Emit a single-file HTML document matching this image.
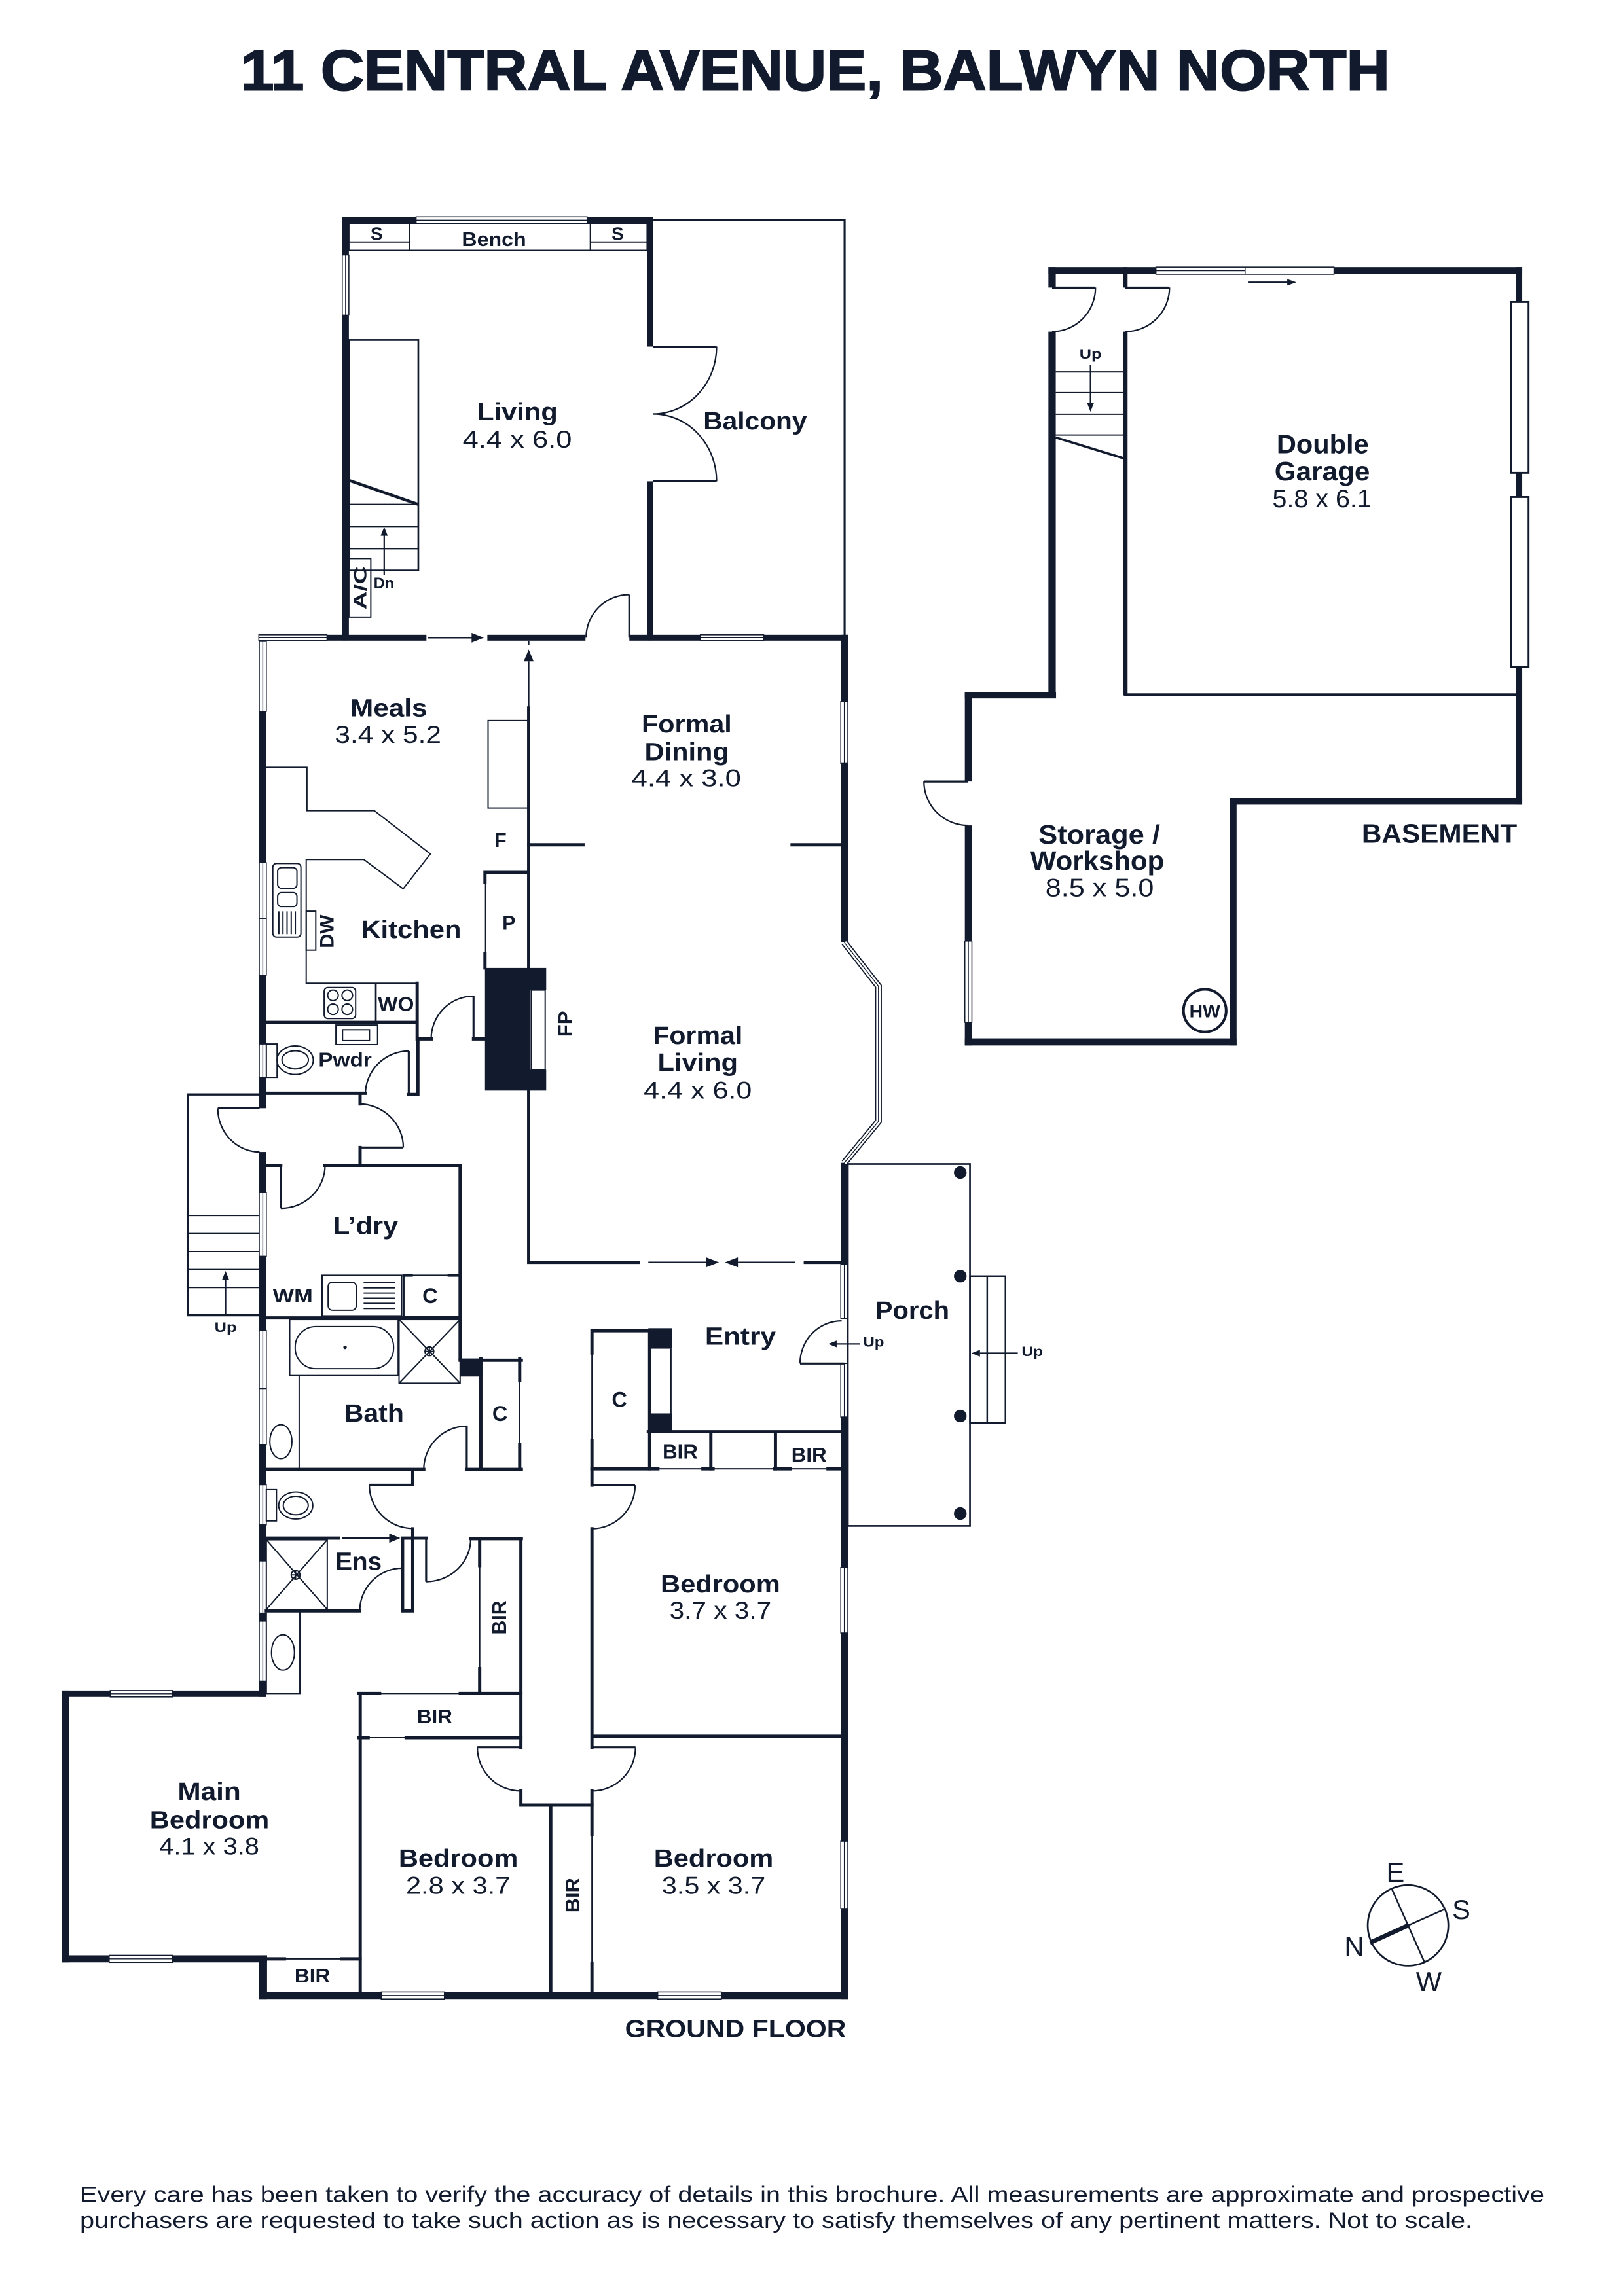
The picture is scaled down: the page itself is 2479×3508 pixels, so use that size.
<!DOCTYPE html>
<html><head><meta charset="utf-8">
<style>
html,body{margin:0;padding:0;background:#fff;}
svg{display:block;}
text{font-family:"Liberation Sans",Arial,sans-serif;fill:#121b2e;}
.n{font-weight:bold;font-size:17px;}
.d{font-size:16.5px;}
.s{font-weight:bold;font-size:13.5px;}
.u{font-weight:bold;font-size:9.5px;}
.c{font-size:18.5px;}
</style></head><body>
<svg xmlns="http://www.w3.org/2000/svg" width="2479" height="3508" viewBox="0 0 1103 1560.8" preserveAspectRatio="none">
<rect width="1103" height="1560.8" fill="#fff"/>

<text x="554" y="61.1" text-anchor="middle" font-weight="bold" font-size="39" textLength="781" lengthAdjust="spacingAndGlyphs" stroke="#121b2e" stroke-width="0.9">11 CENTRAL AVENUE, BALWYN NORTH</text>

<!-- exterior walls -->
<g fill="#121b2e">
<rect x="232.6" y="147.4" width="211.2" height="4.5"/>
<rect x="232.6" y="147.4" width="4.5" height="288"/>
<rect x="439.8" y="147.4" width="4" height="88.2"/>
<rect x="439.8" y="327.2" width="4" height="108.2"/>
<rect x="175.9" y="431.5" width="113.9" height="4"/>
<rect x="331.2" y="431.5" width="66.7" height="4"/>
<rect x="427.7" y="431.5" width="148.5" height="4"/>
<rect x="176.2" y="431.5" width="4.8" height="321.9"/>
<rect x="176.2" y="783.1" width="4.8" height="370.5"/>
<rect x="42" y="1149.2" width="139" height="4.4"/>
<rect x="42" y="1149.2" width="5" height="184.8"/>
<rect x="42" y="1329.2" width="139.5" height="4.8"/>
<rect x="176.1" y="1329.2" width="5.4" height="29.7"/>
<rect x="176.1" y="1354.1" width="400.1" height="4.8"/>
<rect x="571.4" y="431.5" width="4.8" height="209.2"/>
<rect x="571.4" y="790.5" width="4.8" height="106"/>
<rect x="571.4" y="926.9" width="4.8" height="432"/>
<!-- basement -->
<rect x="712.5" y="181.6" width="322" height="4.8"/>
<rect x="712.5" y="181.6" width="5" height="13.9"/>
<rect x="712.5" y="225.4" width="5" height="249"/>
<rect x="763.5" y="181.6" width="2.8" height="13.9"/>
<rect x="763.5" y="225.4" width="2.8" height="247.4"/>
<rect x="655.7" y="470.4" width="62" height="4.4"/>
<rect x="655.7" y="470.4" width="4.8" height="60.9"/>
<rect x="655.7" y="561.1" width="4.8" height="149.6"/>
<rect x="655.7" y="705.9" width="184.7" height="4.8"/>
<rect x="836" y="542.6" width="4.4" height="168.1"/>
<rect x="836" y="542.6" width="198.5" height="4.4"/>
<rect x="1030.1" y="181.6" width="4.4" height="365.4"/>
<rect x="764" y="471.3" width="268" height="2"/>
<!-- black solids -->
<rect x="329.6" y="658" width="30.7" height="83.4"/>
<rect x="360.3" y="658" width="10.9" height="15"/>
<rect x="360.3" y="727.2" width="10.9" height="14.2"/>
<rect x="440.6" y="902.9" width="16" height="13.9"/>
<rect x="440.6" y="960.8" width="16" height="13"/>
<rect x="312.7" y="923.5" width="15.1" height="12.3"/>
</g>

<!-- bay window -->
<path d="M573.8,640.7 L597,670.4 L597,762.3 L573.8,790.5" fill="none" stroke="#121b2e" stroke-width="4.6"/>
<path d="M573.8,640.7 L597,670.4 L597,762.3 L573.8,790.5" fill="none" stroke="#fff" stroke-width="3"/>
<path d="M573.8,640.7 L597,670.4 L597,762.3 L573.8,790.5" fill="none" stroke="#121b2e" stroke-width="0.6"/>

<!-- windows -->
<g fill="#fff" stroke="#121b2e" stroke-width="0.7">
<rect x="282.8" y="147.4" width="116.2" height="4.5"/>
<rect x="175.9" y="431.5" width="46.3" height="4"/>
<rect x="476" y="431.5" width="43" height="4"/>
<rect x="74.9" y="1149.2" width="42.2" height="4.4"/>
<rect x="74.2" y="1329.2" width="42.9" height="4.8"/>
<rect x="259.1" y="1354.1" width="42.9" height="4.8"/>
<rect x="447" y="1354.1" width="43.2" height="4.8"/>
<rect x="785.6" y="181.6" width="121" height="4.8"/>
<rect x="232.6" y="173.3" width="4.5" height="40.9"/>
<rect x="176.2" y="436" width="4.8" height="47.6"/>
<rect x="176.2" y="586.5" width="4.8" height="37.8"/>
<rect x="176.2" y="624.3" width="4.8" height="38.6"/>
<rect x="176.2" y="709.7" width="4.8" height="22.7"/>
<rect x="176.2" y="810.5" width="4.8" height="43.5"/>
<rect x="176.2" y="904.4" width="4.8" height="39.5"/>
<rect x="176.2" y="943.9" width="4.8" height="38.2"/>
<rect x="176.2" y="1009.3" width="4.8" height="27.3"/>
<rect x="176.2" y="1061.1" width="4.8" height="35.5"/>
<rect x="176.2" y="1102" width="4.8" height="40.8"/>
<rect x="571.4" y="476.9" width="4.8" height="42.1"/>
<rect x="571.4" y="859.5" width="4.8" height="36.6"/>
<rect x="571.4" y="926.9" width="4.8" height="36.4"/>
<rect x="571.4" y="1065.5" width="4.8" height="44.6"/>
<rect x="571.4" y="1251.6" width="4.8" height="45.8"/>
<rect x="655.7" y="639.7" width="4.8" height="55.2"/>
</g>
<g stroke="#121b2e" stroke-width="0.6" fill="none">
<path d="M282.8,149.65H399 M175.9,433.5H222.2 M476,433.5H519 M74.9,1151.4H117.1 M74.2,1331.6H117.1 M259.1,1356.5H302 M447,1356.5H490.2 M785.6,184H846.2 M846.2,181.6V186.4"/>
<path d="M234.85,173.3V214.2 M178.6,436V483.6 M178.6,586.5V662.9 M178.6,709.7V732.4 M178.6,810.5V854 M178.6,904.4V982.1 M178.6,1009.3V1036.6 M178.6,1061.1V1096.6 M178.6,1102V1142.8"/>
<path d="M573.8,476.9V519 M573.8,859.5V896.1 M573.8,926.9V963.3 M573.8,1065.5V1110.1 M573.8,1251.6V1297.4 M658.1,639.7V694.9"/>
</g>
<g fill="#fff" stroke="#121b2e" stroke-width="1.3">
<rect x="1026.8" y="205.3" width="12" height="116.1"/>
<rect x="1026.8" y="337.9" width="12" height="115.3"/>
</g>

<!-- interior walls -->
<g stroke="#121b2e" stroke-width="2.2" fill="none" stroke-linecap="square">
<path d="M359.3,481.3 V858.1 H434"/>
<path d="M359.3,574.3 H396.2 M538.3,574.3 H571.4 M547.3,858.1 H571.4"/>
<path d="M329.6,593.1 H359.3 M329.6,593.1 V599.7 M329.6,648.4 V658"/>
<path d="M181,695 H283.5 M283.5,668.4 V706.3 H293 M321.8,706.3 H329.6"/>
<path d="M284,706.3 V744 H277.8"/>
<path d="M181,743.2 H248.3 M244.7,743.2 V750.5 M244.7,780.1 V792.2"/>
<path d="M181,792.2 H190.8 M220.9,792.2 H312.7 V923.5 M181,895.9 H312.7"/>
<path d="M312.7,924.7 H354.3 M326.8,923.5 V998.9 M353.2,923.5 V938.5 M353.2,982 V998.9"/>
<path d="M181,998.9 H288 M317.2,998.9 H354.3 M280.5,998.9 V1009.3 M280.5,1039.3 V1046"/>
<path d="M181,1045.6 H230 M273.6,1045.6 H289.6 M273.6,1045.6 V1095.1 H280.5 V1045.6 M181,1095.1 H244.5"/>
<path d="M319.9,1046 H354.3 M326,1046 V1064.3 M326,1134.3 V1151.2 M354,1046 V1187.8"/>
<path d="M243.7,1151.2 H258 M312.8,1151.2 H354 M243.7,1181.3 H250.2 M276,1181.3 H354 M244.8,1151.2 V1354.1"/>
<path d="M354,1217.5 V1227.1 H402.3 M374.3,1227.1 V1354.1 M402.3,1227.1 V1246.9 M402.3,1334.5 V1354.1"/>
<path d="M402.3,998.5 V1009.6 M402.3,1039.2 V1187.8 M402.3,1217.5 V1227.1 M402.3,1180.3 H571.4"/>
<path d="M402.3,904.6 H441.5 V998.5 M402.3,904.6 V919.8 M402.3,979.4 V998.5"/>
<path d="M440.6,973.3 H571.4 M483.1,973.3 V998.5 M527,973.3 V998.5"/>
<path d="M402.3,998.5 H447.1 M477.7,998.5 H484.6 M526.4,998.5 H536.9 M562.7,998.5 H571.4"/>
<path d="M181.5,1331.6 H193.3 M232.2,1331.6 H244.8"/>
<path d="M274.5,866.9 H279.6 M305.2,866.9 H312.7" stroke-width="2"/>
</g>

<!-- thin fixtures -->
<g stroke="#121b2e" stroke-width="0.9" fill="none">
<rect x="237.1" y="151.9" width="202.7" height="18.3"/>
<path d="M278.4,151.9V170.2 M401.2,151.9V170.2 M237.1,164.5H278.4 M401.2,164.5H439.8"/>
<rect x="237.1" y="231.1" width="47.2" height="156.7" stroke-width="1.2"/>
<path d="M237.1,342.9H284.3 M237.1,357.9H284.3 M237.1,373H284.3"/>
<rect x="237.1" y="379.7" width="14.9" height="39.8"/>
<rect x="331.7" y="489.8" width="27.6" height="59.5"/>
<path d="M330,599.7V648.4"/>
<path d="M181,521.6 H208.6 V551.1 H254.4 L292.5,580.5 L274,604.2 L247.3,584.3 H208.1 V668.4 H283.5"/>
<rect x="185.4" y="587" width="19.1" height="50" rx="2.5"/>
<rect x="188.7" y="589.8" width="13.1" height="14" rx="2.5"/>
<rect x="188.7" y="606.8" width="13.1" height="9.5" rx="2.5"/>
<path d="M189.5,619.5V635 M192.3,619.5V635 M195.1,619.5V635 M197.9,619.5V635 M200.7,619.5V635"/>
<rect x="208.1" y="619.4" width="6.5" height="26.5"/>
<rect x="220.3" y="671.3" width="21.4" height="21.1" rx="2.5"/>
<circle cx="226.3" cy="676.6" r="3.6"/><circle cx="236" cy="676.6" r="3.6"/>
<circle cx="226.3" cy="686.1" r="3.6"/><circle cx="236" cy="686.1" r="3.6"/>
<path d="M255.4,668.4V695" stroke-width="1.2"/>
<rect x="361" y="673" width="9.5" height="54.2" fill="#fff"/>
<rect x="228.3" y="696.8" width="28.3" height="13.3"/>
<rect x="232.8" y="700" width="18.3" height="7.4"/>
<rect x="181" y="709.7" width="7.3" height="22.7"/>
<ellipse cx="200.6" cy="720.7" rx="12.3" ry="9.7"/>
<ellipse cx="200.6" cy="720.5" rx="9" ry="6.2"/>
<path d="M179,744 H127.6 V894.1 H179" stroke-width="1.5"/>
<path d="M127.6,826.3H176.2 M127.6,838.5H176.2 M127.6,850.7H176.2 M127.6,863H176.2 M127.6,875.3H176.2"/>
<rect x="218.9" y="866.9" width="54.1" height="27.6"/>
<rect x="223" y="871.6" width="19.1" height="19.1" rx="3"/>
<path d="M247.1,872H268.5 M247.1,875.5H268.5 M247.1,879H268.5 M247.1,882.5H268.5 M247.1,886H268.5 M247.1,889.5H268.5"/>
<rect x="274.5" y="866.9" width="38.2" height="28"/>
<rect x="196.9" y="897" width="73.7" height="38.1"/>
<rect x="200.6" y="901.8" width="66.9" height="28.6" rx="14"/>
<rect x="271.2" y="897" width="41.5" height="43.3"/>
<path d="M271.2,897 L312.7,940.3 M312.7,897 L271.2,940.3"/>
<circle cx="291.8" cy="918.6" r="3"/>
<path d="M288.8,918.6H294.8 M291.8,915.6V921.6"/>
<path d="M203.3,935.1V998.9"/>
<ellipse cx="190.9" cy="980" rx="7.5" ry="11.5"/>
<path d="M353.2,938.5V982"/>
<rect x="181" y="1012.6" width="6.9" height="21.3"/>
<ellipse cx="201" cy="1023.4" rx="11.6" ry="9.2"/>
<ellipse cx="201" cy="1023.4" rx="8.5" ry="6.3"/>
<rect x="181" y="1046.7" width="41.4" height="47.4"/>
<path d="M181,1046.7 L222.4,1094.1 M222.4,1046.7 L181,1094.1"/>
<circle cx="200.9" cy="1070.6" r="3"/>
<path d="M197.9,1070.6H203.9 M200.9,1067.6V1073.6"/>
<rect x="181" y="1095.1" width="22.8" height="56.1"/>
<ellipse cx="192.3" cy="1123.3" rx="7.8" ry="12"/>
<path d="M326,1064.3V1134.3 M258,1151.2H312.8 M250.2,1181.3H276 M402.3,1246.9V1334.5 M193.3,1331.6H232.2 M402.3,919.8V979.4 M456,916.8V960.8 M402.3,998.5H571.4"/>
<rect x="576.2" y="791.3" width="83" height="246" stroke-width="1.2"/>
<rect x="659.2" y="867.5" width="24.1" height="99.8" stroke-width="1.1"/>
<path d="M670.9,867.5V967.3" stroke-width="1.1"/>
<path d="M443.8,149.4 H574 V433.5" stroke-width="1.4"/>
<path d="M717.5,252.8H763.5 M717.5,266.9H763.5 M717.5,281.6H763.5 M717.5,295.7H763.5"/>
<circle cx="818.8" cy="687" r="14.5" stroke-width="1.8"/>
</g>
<path d="M237.1,326.5 L284.3,342.9" stroke="#121b2e" stroke-width="2" fill="none"/>
<path d="M717.5,297.4 L763.5,311.5" stroke="#121b2e" stroke-width="1.6" fill="none"/>
<g fill="#121b2e">
<circle cx="652.6" cy="797.1" r="4.3"/>
<circle cx="652.6" cy="867.5" r="4.3"/>
<circle cx="652.6" cy="962.6" r="4.3"/>
<circle cx="652.6" cy="1028.9" r="4.3"/>
<circle cx="234.5" cy="915.9" r="1.2"/>
</g>

<!-- door leaves -->
<g stroke="#121b2e" stroke-width="1.4" fill="none">
<path d="M427.7,404.2V433.5"/>
<path d="M443.8,235.6H487 M443.8,327.2H487"/>
<path d="M321.8,677.2V706.3"/>
<path d="M277.8,714.5V744"/>
<path d="M148,753.4H176.4"/>
<path d="M243.9,780.1H274.1"/>
<path d="M190.8,792.2V821.4"/>
<path d="M317.2,969.5V998.9"/>
<path d="M251,1009.3H280.5"/>
<path d="M273.6,1066V1095.1"/>
<path d="M289.6,1046V1075.2"/>
<path d="M324.4,1187.8H354"/>
<path d="M402.3,1187.8H431.9"/>
<path d="M402.3,1009.6H431.6"/>
<path d="M543.7,926.9H573.8"/>
<path d="M715,195.5H744.5"/>
<path d="M764.8,195.5H794.8"/>
<path d="M627.9,531.3H658"/>
</g>
<!-- door arcs -->
<g stroke="#121b2e" stroke-width="1" fill="none">
<path d="M398.3,433.5 A29.4,29.3 0 0 1 427.7,404.2"/>
<path d="M487,235.6 A43.2,45.8 0 0 1 443.8,281.4"/>
<path d="M487,327.2 A43.2,45.8 0 0 0 443.8,281.4"/>
<path d="M293,706.3 A28.8,29.1 0 0 1 321.8,677.2"/>
<path d="M248.3,744 A29.5,29.5 0 0 1 277.8,714.5"/>
<path d="M148,753.4 A28.4,29.7 0 0 0 176.4,783.1"/>
<path d="M274.1,780.1 A30.2,29.6 0 0 0 243.9,750.5"/>
<path d="M190.8,821.4 A30.1,29.2 0 0 0 220.9,792.2"/>
<path d="M288,998.9 A29.2,29.4 0 0 1 317.2,969.5"/>
<path d="M251,1009.3 A29.5,29.7 0 0 0 280.5,1039"/>
<path d="M244.5,1095.1 A29.1,29.1 0 0 1 273.6,1066"/>
<path d="M289.6,1075.2 A30.3,29.2 0 0 0 319.9,1046"/>
<path d="M324.4,1187.8 A29.6,29.7 0 0 0 354,1217.5"/>
<path d="M431.9,1187.8 A29.6,29.7 0 0 1 402.3,1217.5"/>
<path d="M431.6,1009.6 A29.3,29.6 0 0 1 402.3,1039.2"/>
<path d="M543.7,926.9 A28.3,29 0 0 1 572,897.9"/>
<path d="M744.5,195.5 A29.5,29.9 0 0 1 715,225.4"/>
<path d="M794.8,195.5 A30,29.9 0 0 1 764.8,225.4"/>
<path d="M627.9,531.3 A30.1,29.8 0 0 0 658,561.1"/>
</g>

<!-- arrows -->
<g stroke="#121b2e" stroke-width="1" fill="none">
<path d="M290.9,433.5H321 M359.3,449.5V481.3 M359.3,435.5V438.5 M440.6,858.1H480 M501.5,858.1H540.5 M232.3,1045.6H265 M153.3,894.1V869.5 M261.1,391V364 M584.6,913.6H568 M691.7,919.9H666 M848.1,191.9H875 M741.1,248.2V274.5"/>
</g>
<g fill="#121b2e">
<polygon points="328.8,433.5 320.5,430.2 320.5,436.8"/>
<polygon points="359.3,441.5 356,449.5 362.6,449.5"/>
<polygon points="488.6,858.1 479.8,854.7 479.8,861.5"/>
<polygon points="492.7,858.1 501.5,854.7 501.5,861.5"/>
<polygon points="272.1,1045.6 264.5,1042.4 264.5,1048.8"/>
<polygon points="153.3,864 150.9,870 155.7,870"/>
<polygon points="261.1,358.2 258.7,364.2 263.5,364.2"/>
<polygon points="562.8,913.6 568.6,911.3 568.6,915.9"/>
<polygon points="660.2,919.9 666,917.6 666,922.2"/>
<polygon points="881,191.9 874.8,189.7 874.8,194.1"/>
<polygon points="741.1,279.9 738.8,274 743.4,274"/>
</g>

<!-- compass -->
<g stroke="#121b2e" fill="none">
<circle cx="956.9" cy="1308.9" r="27.4" stroke-width="1.2"/>
<path d="M945.9,1284.1 L968.2,1334.1" stroke-width="1.1"/>
<path d="M956.9,1308.9 L981.5,1298" stroke-width="1.1"/>
<path d="M931.1,1320.7 L956.9,1308.9" stroke-width="3"/>
</g>
<text class="c" x="948.3" y="1279.2" text-anchor="middle">E</text>
<text class="c" x="993.1" y="1304.5" text-anchor="middle">S</text>
<text class="c" x="920.3" y="1329.4" text-anchor="middle">N</text>
<text class="c" x="971" y="1353.4" text-anchor="middle">W</text>

<!-- labels ground floor -->
<text class="n" x="351.7" y="285.7" text-anchor="middle" textLength="54.6" lengthAdjust="spacingAndGlyphs">Living</text>
<text class="d" x="351.5" y="304.3" text-anchor="middle" textLength="74.2" lengthAdjust="spacingAndGlyphs">4.4 x 6.0</text>
<text class="n" x="513.2" y="291.8" text-anchor="middle" textLength="70.4" lengthAdjust="spacingAndGlyphs">Balcony</text>
<text x="256" y="163.1" text-anchor="middle" font-weight="bold" font-size="12.5">S</text>
<text x="419.8" y="163.1" text-anchor="middle" font-weight="bold" font-size="12.5">S</text>
<text x="335.7" y="167.2" text-anchor="middle" font-weight="bold" font-size="13.5" textLength="43.7" lengthAdjust="spacingAndGlyphs">Bench</text>
<text x="244.5" y="404" transform="rotate(-90 244.5 399.6)" text-anchor="middle" font-weight="bold" font-size="12" textLength="29.6" lengthAdjust="spacingAndGlyphs">A/C</text>
<text x="253.9" y="400.1" font-weight="bold" font-size="10.5" textLength="14" lengthAdjust="spacingAndGlyphs">Dn</text>
<text class="n" x="264.2" y="486.9" text-anchor="middle" textLength="52.3" lengthAdjust="spacingAndGlyphs">Meals</text>
<text class="d" x="263.7" y="505" text-anchor="middle" textLength="72.3" lengthAdjust="spacingAndGlyphs">3.4 x 5.2</text>
<text class="n" x="466.7" y="497.9" text-anchor="middle" textLength="61.3" lengthAdjust="spacingAndGlyphs">Formal</text>
<text class="n" x="466.8" y="516.8" text-anchor="middle" textLength="57.5" lengthAdjust="spacingAndGlyphs">Dining</text>
<text class="d" x="466.4" y="534.5" text-anchor="middle" textLength="74.4" lengthAdjust="spacingAndGlyphs">4.4 x 3.0</text>
<text class="s" x="340.1" y="575.8" text-anchor="middle">F</text>
<text class="s" x="345.8" y="632" text-anchor="middle">P</text>
<text x="221.8" y="638" transform="rotate(-90 221.8 633.2)" text-anchor="middle" font-weight="bold" font-size="13" textLength="22.8" lengthAdjust="spacingAndGlyphs">DW</text>
<text class="n" x="279.4" y="637.5" text-anchor="middle" textLength="68.1" lengthAdjust="spacingAndGlyphs">Kitchen</text>
<text class="s" x="269.1" y="687.2" text-anchor="middle" textLength="24.5" lengthAdjust="spacingAndGlyphs">WO</text>
<text x="384" y="700.7" transform="rotate(-90 384 696)" text-anchor="middle" font-weight="bold" font-size="13" textLength="17.7" lengthAdjust="spacingAndGlyphs">FP</text>
<text class="n" x="474.2" y="709.7" text-anchor="middle" textLength="61" lengthAdjust="spacingAndGlyphs">Formal</text>
<text class="n" x="474.2" y="728" text-anchor="middle" textLength="54.5" lengthAdjust="spacingAndGlyphs">Living</text>
<text class="d" x="474.2" y="746.9" text-anchor="middle" textLength="73.5" lengthAdjust="spacingAndGlyphs">4.4 x 6.0</text>
<text class="s" x="234.5" y="724.9" text-anchor="middle" textLength="36.3" lengthAdjust="spacingAndGlyphs">Pwdr</text>
<text class="n" x="248.5" y="839" text-anchor="middle" textLength="44.2" lengthAdjust="spacingAndGlyphs">L’dry</text>
<text class="u" x="153.3" y="905.4" text-anchor="middle" textLength="15" lengthAdjust="spacingAndGlyphs">Up</text>
<text class="s" x="199" y="885.4" text-anchor="middle" textLength="27.2" lengthAdjust="spacingAndGlyphs">WM</text>
<text x="292.3" y="885.9" text-anchor="middle" font-weight="bold" font-size="14.5">C</text>
<text class="n" x="254.2" y="966.3" text-anchor="middle" textLength="40.6" lengthAdjust="spacingAndGlyphs">Bath</text>
<text x="339.8" y="966" text-anchor="middle" font-weight="bold" font-size="14.5">C</text>
<text class="n" x="503.2" y="914" text-anchor="middle" textLength="48.1" lengthAdjust="spacingAndGlyphs">Entry</text>
<text x="421" y="956.3" text-anchor="middle" font-weight="bold" font-size="14.5">C</text>
<text class="s" x="462.3" y="991.6" text-anchor="middle" textLength="24" lengthAdjust="spacingAndGlyphs">BIR</text>
<text class="s" x="549.8" y="993.5" text-anchor="middle" textLength="24" lengthAdjust="spacingAndGlyphs">BIR</text>
<text class="u" x="586.6" y="915.5" textLength="14.3" lengthAdjust="spacingAndGlyphs">Up</text>
<text class="n" x="620" y="896.5" text-anchor="middle" textLength="50.4" lengthAdjust="spacingAndGlyphs">Porch</text>
<text class="u" x="694.3" y="922" textLength="14.5" lengthAdjust="spacingAndGlyphs">Up</text>
<text class="n" x="243.7" y="1067.1" text-anchor="middle" textLength="31.5" lengthAdjust="spacingAndGlyphs">Ens</text>
<text x="339" y="1104.5" transform="rotate(-90 339 1099.6)" text-anchor="middle" font-weight="bold" font-size="13.5" textLength="23.2" lengthAdjust="spacingAndGlyphs">BIR</text>
<text class="n" x="489.6" y="1082.5" text-anchor="middle" textLength="81.3" lengthAdjust="spacingAndGlyphs">Bedroom</text>
<text class="d" x="489.6" y="1100.2" text-anchor="middle" textLength="69.2" lengthAdjust="spacingAndGlyphs">3.7 x 3.7</text>
<text class="s" x="295.4" y="1171.6" text-anchor="middle" textLength="24" lengthAdjust="spacingAndGlyphs">BIR</text>
<text class="n" x="142.2" y="1223.5" text-anchor="middle" textLength="42.9" lengthAdjust="spacingAndGlyphs">Main</text>
<text class="n" x="142.4" y="1242.8" text-anchor="middle" textLength="81.2" lengthAdjust="spacingAndGlyphs">Bedroom</text>
<text class="d" x="142.2" y="1260.8" text-anchor="middle" textLength="67.9" lengthAdjust="spacingAndGlyphs">4.1 x 3.8</text>
<text class="n" x="311.5" y="1268.9" text-anchor="middle" textLength="81.2" lengthAdjust="spacingAndGlyphs">Bedroom</text>
<text class="d" x="311.3" y="1287.5" text-anchor="middle" textLength="70.9" lengthAdjust="spacingAndGlyphs">2.8 x 3.7</text>
<text x="388.8" y="1293.3" transform="rotate(-90 388.8 1288.4)" text-anchor="middle" font-weight="bold" font-size="13.5" textLength="23.6" lengthAdjust="spacingAndGlyphs">BIR</text>
<text class="n" x="485" y="1268.9" text-anchor="middle" textLength="81.2" lengthAdjust="spacingAndGlyphs">Bedroom</text>
<text class="d" x="485" y="1287.5" text-anchor="middle" textLength="70.4" lengthAdjust="spacingAndGlyphs">3.5 x 3.7</text>
<text class="s" x="212.3" y="1347.7" text-anchor="middle" textLength="24.3" lengthAdjust="spacingAndGlyphs">BIR</text>
<text x="499.9" y="1384.8" text-anchor="middle" font-weight="bold" font-size="17" textLength="150.3" lengthAdjust="spacingAndGlyphs">GROUND FLOOR</text>

<!-- labels basement -->
<text class="u" x="741.1" y="243.8" text-anchor="middle" textLength="15" lengthAdjust="spacingAndGlyphs">Up</text>
<text x="898.9" y="308.1" text-anchor="middle" font-weight="bold" font-size="18" textLength="62.7" lengthAdjust="spacingAndGlyphs">Double</text>
<text x="898.6" y="326.6" text-anchor="middle" font-weight="bold" font-size="18" textLength="64.8" lengthAdjust="spacingAndGlyphs">Garage</text>
<text x="898.4" y="344.9" text-anchor="middle" font-size="17.5" textLength="67.3" lengthAdjust="spacingAndGlyphs">5.8 x 6.1</text>
<text x="747.1" y="573.5" text-anchor="middle" font-weight="bold" font-size="18" textLength="82.6" lengthAdjust="spacingAndGlyphs">Storage /</text>
<text x="745.7" y="591.2" text-anchor="middle" font-weight="bold" font-size="18" textLength="91" lengthAdjust="spacingAndGlyphs">Workshop</text>
<text x="747.3" y="609.4" text-anchor="middle" font-size="17.5" textLength="73.7" lengthAdjust="spacingAndGlyphs">8.5 x 5.0</text>
<text x="978.2" y="572.9" text-anchor="middle" font-weight="bold" font-size="18" textLength="105.6" lengthAdjust="spacingAndGlyphs">BASEMENT</text>
<text x="818.8" y="691.6" text-anchor="middle" font-weight="bold" font-size="12.5" textLength="21" lengthAdjust="spacingAndGlyphs">HW</text>

<!-- footer -->
<text x="54.3" y="1497" font-size="15.2" textLength="995.3" lengthAdjust="spacingAndGlyphs">Every care has been taken to verify the accuracy of details in this brochure. All measurements are approximate and prospective</text>
<text x="54.3" y="1514.5" font-size="15.2" textLength="946.4" lengthAdjust="spacingAndGlyphs">purchasers are requested to take such action as is necessary to satisfy themselves of any pertinent matters. Not to scale.</text>
</svg>
</body></html>
